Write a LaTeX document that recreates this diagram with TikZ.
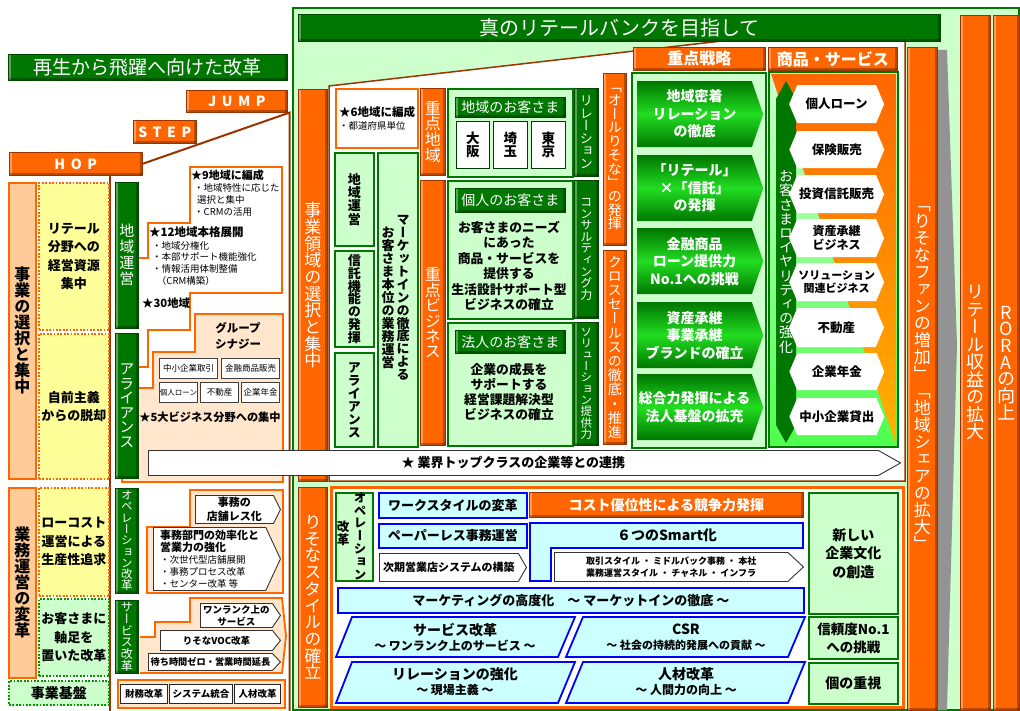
\documentclass[tikz,border=0pt]{standalone}
\usepackage{fontspec}
\setmainfont{Noto Sans CJK JP}
\newfontfamily\tatefont[RawFeature=+vert]{Noto Sans CJK JP}
\usetikzlibrary{shapes.symbols}

\definecolor{orng}{HTML}{FF6600}
\definecolor{brn}{HTML}{993300}
\definecolor{dgrn}{HTML}{007700}
\definecolor{lgrn}{HTML}{CCFFCC}
\definecolor{bgrn}{HTML}{22DD22}
\definecolor{peach}{HTML}{FFE6CC}
\definecolor{peachd}{HTML}{FFCC99}
\definecolor{ylw}{HTML}{FFFF99}
\definecolor{cyn}{HTML}{CCFFFF}
\definecolor{blu}{HTML}{0000FF}

\makeatletter
\def\tate#1{\let\tate@sep\relax\@tfor\tate@c:=#1\do{\tate@sep\tate@c\def\tate@sep{\\}}}
\makeatother
\def\fsz#1#2{\fontsize{#1}{#2}\selectfont}
\def\bx#1[#2](#3,#4)(#5,#6)#7{\node[#2, anchor=north west, minimum width=#5pt-#3pt, minimum height=#6pt-#4pt] (#1) at (#3,#4) {#7};}

\tikzset{
  bevel/.style={path picture={
    \fill[white, opacity=.35] (path picture bounding box.north west) rectangle ([xshift=2.5pt]path picture bounding box.south west);
    \fill[black, opacity=.28] ([xshift=-2.5pt]path picture bounding box.north east) rectangle (path picture bounding box.south east);
    \fill[black, opacity=.28] ([yshift=2.5pt]path picture bounding box.south west) rectangle (path picture bounding box.south east);}},
  obar/.style={fill=orng, draw=brn, line width=.6pt, bevel, text=white, align=center},
  gbar/.style={fill=dgrn, draw=dgrn!60!black, line width=.6pt, bevel, text=white, align=center},
  tate/.style={text width=20pt, align=center},
  lgb/.style={fill=lgrn, draw=dgrn, line width=1.8pt, align=center},
  ybox/.style={fill=ylw, draw=orng, line width=1.8pt, dash pattern=on 1.8pt off 1.6pt, align=center, font=\fsz{13}{18.5}\bfseries},
  gdot/.style={fill=lgrn, draw=green!60!black, line width=1.8pt, dash pattern=on 1.8pt off 1.6pt, align=center, font=\fsz{13}{18.5}\bfseries},
  pbox/.style={fill=peachd, draw=orng, line width=1.8pt},
  wob/.style={fill=white, draw=orng, line width=2pt},
  stair/.style={draw=orng, line width=1.8pt},
  sbox/.style={fill=white, draw=black!75, line width=1pt, font=\fsz{8.5}{10}},
  bbox/.style={fill=white, draw=black!85, line width=1pt, font=\fsz{9.5}{10}\bfseries},
  wchev/.style={signal, signal to=east, fill=white, draw=black!80, line width=.9pt, align=center},
  gchev/.style={signal, signal to=east, signal pointer angle=142, top color=dgrn, bottom color=dgrn, middle color=bgrn, text=white, align=center, font=\fsz{14}{17.5}\bfseries},
  hexa/.style={signal, signal to=west and east, signal pointer angle=134, fill=white, align=center, font=\fsz{12.5}{14}\bfseries},
  cb/.style={fill=cyn, draw=blu, line width=1.8pt, font=\fsz{13}{13}\bfseries},
  wb/.style={fill=white, draw=dgrn!50!black, line width=.8pt},
}

\begin{document}
\begin{tikzpicture}[x=1pt, y=-1pt, every node/.style={inner sep=0pt}, font=\fsz{12}{14}]
		%%%%% START %%%%%
		
		\useasboundingbox (0,0) rectangle (1020,711);
		\fill[white] (0,0) rectangle (1020,711);
		
		% main frame
		\draw[fill=lgrn, draw=dgrn, line width=2pt] (293,8) rectangle (1019,710);
		\fill[gray!85] (938,50) -- (947,50) -- (957,345) -- (947,710) -- (938,710) -- cycle;
		\draw[fill=white, draw=brn, line width=1.5pt] (329,86) -- (905,20) -- (905,481) -- (329,481) -- cycle;
		\draw[fill=white, draw=orng, line width=3pt] (331,487) rectangle (903,707);
		\bx{ttl}[gbar, font=\fsz{20}{20}](298,14)(940,41){真のリテールバンクを目指して}
		\bx{fan}[obar, tate, font=\tatefont\fsz{17}{17}](907,47)(937,710){\tate{「りそなファンの増加」「地域シェアの拡大」}}
		\bx{rev}[obar, tate, font=\tatefont\fsz{18}{17.5}](960,15)(990,710){\tate{リテール収益の拡大}}
		\bx{rora}[obar, tate, font=\tatefont\fsz{18}{16.7}](993,15)(1019,710){\tate{RORAの向上}}
		
		% left: hop step jump
		\bx{lttl}[gbar, font=\fsz{19}{20}](8,54)(287,80){再生から飛躍へ向けた改革}
		\bx{jump}[obar, font=\fsz{14}{14}\bfseries\addfontfeature{LetterSpace=40}](186,90)(287,112){JUMP}
		\bx{step}[obar, font=\fsz{14}{14}\bfseries\addfontfeature{LetterSpace=40}](133,120)(196,143){STEP}
		\bx{hop}[obar, font=\fsz{14}{14}\bfseries\addfontfeature{LetterSpace=40}](9,152)(142,175){HOP}
		\draw[brn, line width=2pt] (hop.east) -- ([xshift=2pt]jump.south east) -- ([xshift=2pt]jump.south east |- 0,711);
		\draw[brn, line width=1.5pt] (110,175) -- (110,711);
		
		\bx{sel}[pbox, tate, font=\tatefont\fsz{16}{16}\bfseries](8,182)(35,478){\tate{事業の選択と集中}}
		\bx{ret}[ybox](38,182)(108,329){リテール\\分野への\\経営資源\\集中}
		\bx{jim}[ybox](38,333)(108,478){自前主義\\からの脱却}
		\bx{gyo}[pbox, tate, font=\tatefont\fsz{16}{16}\bfseries](8,487)(35,677){\tate{業務運営の変革}}
		\bx{low}[ybox](38,487)(108,595){ローコスト\\運営による\\生産性追求}
		\bx{cus}[gdot](38,598)(108,675){お客さまに\\軸足を\\置いた改革}
		\bx{kib}[gdot, font=\fsz{14}{14}\bfseries](8,680)(108,704){事業基盤}
		
		% step: stairs
		\draw[stair, fill=white] (130,258) -- (148,258) -- (148,223) -- (190,223) -- (190,167) -- (282,167) -- (282,293) -- (190,293) -- (190,330) -- (148,330) -- (148,367) -- (130,367);
		\draw[stair, fill=peach] (130,388) -- (153,388) -- (153,352) -- (195,352) -- (195,314) -- (283,314) -- (283,482) -- (122,482) -- (122,470);
		\draw[stair, fill=peach] (147,527) -- (190,527) -- (190,490) -- (283,490) -- (283,593) -- (147,593) -- cycle;
		\draw[stair, fill=peach] (140,637) -- (155,637) -- (155,622) -- (190,622) -- (190,598) -- (282,598) -- (286,636) -- (282,673) -- (140,673);
		\bx{base}[fill=peach, draw=orng, line width=1.8pt](117,679)(284,707){}
		
		\bx{chi}[gbar, tate, font=\tatefont\fsz{15}{16}](115,182)(138,328){\tate{地域運営}}
		\bx{ali}[gbar, tate, font=\tatefont\fsz{15}{14.6}](115,333)(138,478){\tate{アライアンス}}
		\bx{ope}[gbar, tate, font=\tatefont\fsz{11.5}{11.3}](115,488)(138,593){\tate{オペレーション改革}}
		\bx{svc}[gbar, tate, font=\tatefont\fsz{12}{11.8}](115,600)(138,673){\tate{サービス改革}}
		
		\node[anchor=west, font=\fsz{11}{12}\bfseries] (s9) at (191,175) {★9地域に編成};
		\node[anchor=north west, align=left, font=\fsz{9.5}{12}] (s9b) at (194,183) {・地域特性に応じた\\\hspace{0.3em}選択と集中\\・CRMの活用};
		\node[anchor=west, font=\fsz{11.5}{12}\bfseries] (s12) at (149,232) {★12地域本格展開};
		\node[anchor=north west, align=left, font=\fsz{9.5}{11.7}] (s12b) at (152,241) {・地域分権化\\・本部サポート機能強化\\・情報活用体制整備\\\hspace{0.5em}（CRM構築）};
		\node[anchor=west, font=\fsz{11.3}{12}\bfseries] (s30) at (142,303) {★30地域};
		
		\node[align=center, font=\fsz{11.5}{16}\bfseries] (grp) at (238,336) {グループ\\シナジー};
		\bx{b1}[sbox](159,358)(217,378){中小企業取引}
		\bx{b2}[sbox](221,358)(279,378){金融商品販売}
		\bx{b3}[sbox, font=\fsz{7.5}{9}](159,382)(197,402){個人ローン}
		\bx{b4}[sbox](200,382)(238,402){不動産}
		\bx{b5}[sbox](241,382)(279,402){企業年金}
		\node[font=\fsz{11.2}{12}\bfseries] (five) at (210,417) {★5大ビジネス分野への集中};
		
		\bx{ten}[wchev, signal pointer angle=127, font=\fsz{11}{14}\bfseries](195,495)(280,523){事務の\\店舗レス化}
		\bx{eff}[wchev, signal pointer angle=130, align=left, font=\fsz{9.5}{12}](153,527)(280,590){{\fsz{11}{14}\bfseries 事務部門の効率化と}\\{\fsz{11}{14}\bfseries 営業力の強化}\\・次世代型店舗展開\\・事務プロセス改革\\・センター改革 等}
		\bx{one}[wchev, signal pointer angle=112, font=\fsz{9.5}{12}\bfseries](200,603)(280,627){ワンランク上の\\サービス}
		\bx{voc}[wchev, signal pointer angle=103, font=\fsz{9.5}{12}\bfseries](160,630)(280,650){りそなVOC改革}
		\bx{wait}[wchev, signal pointer angle=93, font=\fsz{9.2}{12}\bfseries](148,653)(280,670){待ち時間ゼロ・営業時間延長}
		\bx{zai}[bbox](120,684)(167,703){財務改革}
		\bx{sys}[bbox](169,684)(232,703){システム統合}
		\bx{jin}[bbox](234,684)(280,703){人材改革}
		
		% main: upper part
		\bx{jry}[obar, tate, font=\tatefont\fsz{17}{16.7}](298,89)(327,481){\tate{事業領域の選択と集中}}
		\bx{rst}[obar, tate, font=\tatefont\fsz{17}{16.7}](298,487)(327,707){\tate{りそなスタイルの確立}}
		
		\bx{rk6}[wob, align=left, font=\fsz{9.5}{13}](335,88)(417,147){{\bfseries\fsz{11.5}{13}★6地域に編成}\\・都道府県単位}
		\bx{chu}[lgb, tate, font=\tatefont\fsz{13}{13.3}\bfseries](334,152)(373,245){\tate{地域運営}}
		\bx{shin}[lgb, tate, font=\tatefont\fsz{13}{12.8}\bfseries](334,250)(373,346){\tate{信託機能の発揮}}
		\bx{ali2}[lgb, tate, font=\tatefont\fsz{13}{13}\bfseries](334,352)(373,446){\tate{アライアンス}}
		\bx{mkt}[lgb](377,152)(417,446){}
		\node[tate, font=\tatefont\fsz{13}{12.9}\bfseries] (mkt1) at (403,298) {\tate{マーケットインの徹底による}};
		\node[tate, font=\tatefont\fsz{13}{13}\bfseries] (mkt2) at (388,298) {\tate{お客さま本位の業務運営}};
		
		\bx{jc}[obar, tate, font=\tatefont\fsz{16}{15.7}](420,88)(445,175){\tate{重点地域}}
		\bx{jb}[obar, tate, font=\tatefont\fsz{16}{15.4}](420,180)(445,445){\tate{重点ビジネス}}
		
		\bx{reg}[lgb](447,88)(572,176){}
		\bx{regl}[gbar, font=\fsz{14}{14}](455,97)(565,117){地域のお客さま}
		\bx{osk}[wb, tate, font=\tatefont\fsz{13.5}{13}\bfseries](456,121)(489,168){\tate{大阪}}
		\bx{stm}[wb, tate, font=\tatefont\fsz{13.5}{13}\bfseries](493,121)(527,168){\tate{埼玉}}
		\bx{tky}[wb, tate, font=\tatefont\fsz{13.5}{13}\bfseries](531,121)(565,168){\tate{東京}}
		\bx{rel}[gbar, tate, font=\tatefont\fsz{13}{12.6}](574,88)(598,176){\tate{リレーション}}
		
		\bx{ind}[lgb](447,180)(572,318){}
		\bx{indl}[gbar, font=\fsz{14}{14}](455,188)(565,212){個人のお客さま}
		\node[align=center, font=\fsz{12.8}{15.4}\bfseries] (indt) at (509,266) {お客さまのニーズ\\にあった\\商品・サービスを\\提供する\\生活設計サポート型\\ビジネスの確立};
		\bx{con}[gbar, tate, font=\tatefont\fsz{12}{11.6}](574,180)(598,318){\tate{コンサルティング力}}
		
		\bx{cor}[lgb](447,322)(572,445){}
		\bx{corl}[gbar, font=\fsz{14}{14}](455,330)(565,353){法人のお客さま}
		\node[align=center, font=\fsz{12.8}{15}\bfseries] (cort) at (509,392) {企業の成長を\\サポートする\\経営課題解決型\\ビジネスの確立};
		\bx{sol}[gbar, tate, font=\tatefont\fsz{11.5}{11.3}](574,322)(598,445){\tate{ソリューション提供力}}
		
		\bx{all}[obar, tate, font=\tatefont\fsz{14}{13.7}](603,73)(626,245){\tate{「オールりそな」の発揮}}
		\bx{crs}[obar, tate, font=\tatefont\fsz{14}{14.2}](603,250)(626,444){\tate{クロスセールスの徹底・推進}}
		
		\bx{jsh}[obar, font=\fsz{16}{16}\bfseries](633,47)(765,70){重点戦略}
		\bx{shh}[obar, font=\fsz{16}{16}\bfseries](768,47)(897,70){商品・サービス}
		\bx{jsb}[lgb](631,72)(765,447){}
		\bx{c1}[gchev](637,81)(763,147){地域密着\\リレーション\\の徹底}
		\bx{c2}[gchev](637,155)(763,221){「リテール」\\×「信託」\\の発揮}
		\bx{c3}[gchev](637,228)(763,294){金融商品\\ローン提供力\\No.1への挑戦}
		\bx{c4}[gchev](637,302)(763,368){資産承継\\事業承継\\ブランドの確立}
		\bx{c5}[gchev](637,374)(763,440){総合力発揮による\\法人基盤の拡充}
		
		\shade[top color=lgrn, bottom color=green!70] (769,72) rectangle (898,447);
		\shade[top color=orng, bottom color=orange!60!yellow] (771,74) -- (896,74) -- (896,445) -- cycle;
		\draw[dgrn, line width=1.8pt] (769,72) rectangle (898,447);
		\fill[dgrn] (786,81) -- (796,99) -- (796,425) -- (786,443) -- (776,425) -- (776,99) -- cycle;
		\node[tate, text=white, font=\tatefont\fsz{14}{14.2}] (loy) at (786,262) {\tate{お客さまロイヤリティの強化}};
		\bx{h1}[hexa](797,85)(892,123){個人ローン}
		\bx{h2}[hexa](797,131)(892,168){保険販売}
		\bx{h3}[hexa](797,175)(892,213){投資信託販売}
		\bx{h4}[hexa, font=\fsz{12}{14}\bfseries](797,219)(892,257){資産承継\\ビジネス}
		\bx{h5}[hexa, font=\fsz{11}{13}\bfseries](797,263)(892,301){ソリューション\\関連ビジネス}
		\bx{h6}[hexa](797,308)(892,347){不動産}
		\bx{h7}[hexa](797,353)(892,390){企業年金}
		\bx{h8}[hexa](797,398)(892,435){中小企業貸出}
		
		\bx{top}[wchev, signal pointer angle=59, font=\fsz{13}{13}\bfseries](148,450)(900,475){★ 業界トップクラスの企業等との連携}
		
		% main: lower part
		\bx{opk}[lgb](335,492)(372,580){}
		\node[tate, font=\tatefont\fsz{12.5}{12.8}\bfseries] (opk1) at (360,536) {\tate{オペレーション}};
		\node[tate, font=\tatefont\fsz{12.5}{13}\bfseries] (opk2) at (343,533) {\tate{改革}};
		\bx{work}[cb](378,492)(526,517){ワークスタイルの変革}
		\bx{cost}[obar, font=\fsz{14}{14}\bfseries](529,492)(803,517){コスト優位性による競争力発揮}
		\bx{paper}[cb](378,523)(526,547){ペーパーレス事務運営}
		\draw[fill=cyn, draw=blu, line width=1.8pt] (530,523) -- (803,523) -- (803,548) -- (551,548) -- (551,581) -- (530,581) -- cycle;
		\node[font=\fsz{14}{14}\bfseries] (smart) at (667,535) {６つのSmart化};
		\bx{tori}[wchev, signal pointer angle=86, font=\fsz{9}{12}\bfseries](554,552)(803,581){取引スタイル ・ ミドルバック事務 ・ 本社\\業務運営スタイル ・ チャネル ・ インフラ}
		\bx{next}[wchev, signal pointer angle=120, font=\fsz{11}{11}\bfseries](379,553)(526,581){次期営業店システムの構築}
		\bx{mkin}[cb](337,587)(803,612){マーケティングの高度化\quad 〜 マーケットインの徹底 〜}
		
		\draw[fill=cyn, draw=blu, line width=1.8pt] (352,617) -- (575,617) -- (558,657) -- (336,657) -- cycle;
		\node[align=center, font=\fsz{12}{15}\bfseries] (svk) at (455,637) {{\fsz{14}{16}サービス改革}\\〜 ワンランク上のサービス 〜};
		\draw[fill=cyn, draw=blu, line width=1.8pt] (583,617) -- (805,617) -- (788,657) -- (566,657) -- cycle;
		\node[align=center, font=\fsz{11}{15}\bfseries] (csr) at (686,637) {{\fsz{14}{16}CSR}\\〜 社会の持続的発展への貢献 〜};
		\draw[fill=cyn, draw=blu, line width=1.8pt] (352,662) -- (575,662) -- (558,703) -- (336,703) -- cycle;
		\node[align=center, font=\fsz{12}{15}\bfseries] (rlk) at (455,682) {{\fsz{14}{16}リレーションの強化}\\〜 現場主義 〜};
		\draw[fill=cyn, draw=blu, line width=1.8pt] (583,662) -- (805,662) -- (788,703) -- (566,703) -- cycle;
		\node[align=center, font=\fsz{12}{15}\bfseries] (jzk) at (686,682) {{\fsz{14}{16}人材改革}\\〜 人間力の向上 〜};
		
		\bx{new}[lgb, font=\fsz{14}{18.5}\bfseries](808,492)(897,613){新しい\\企業文化\\の創造}
		\bx{trust}[lgb, font=\fsz{13.5}{18}\bfseries](808,616)(897,658){信頼度No.1\\への挑戦}
		\bx{ko}[lgb, font=\fsz{14}{14}\bfseries](808,662)(897,703){個の重視}
		
		%%%%% END %%%%%
\end{tikzpicture}
\end{document}
